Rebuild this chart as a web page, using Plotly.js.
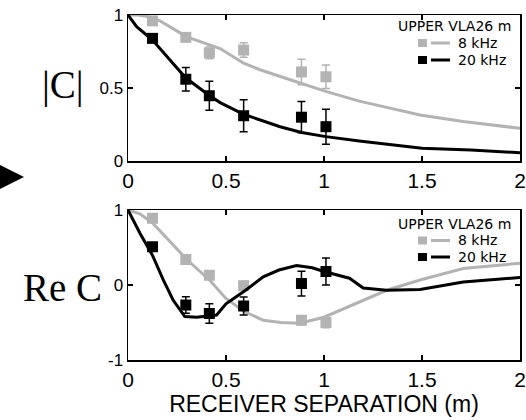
<!DOCTYPE html>
<html>
<head>
<meta charset="utf-8">
<script src="https://cdn.plot.ly/plotly-3.0.1.min.js"></script>
<style>html,body{margin:0;padding:0;background:#fff;}#chart{width:526px;height:420px;}</style>
</head>
<body>
<div id="chart"></div>
<script>
// ---- data ----
const sepData = [0.125, 0.295, 0.415, 0.59, 0.885, 1.01];

const mag20 = [0.84, 0.56, 0.447, 0.31, 0.30, 0.235];
const mag20Err = [0.02, 0.08, 0.10, 0.11, 0.107, 0.12];
const mag8 = [0.96, 0.847, 0.74, 0.76, 0.61, 0.577];
const mag8Err = [0.02, 0.02, 0.04, 0.05, 0.087, 0.08];

const re20 = [0.51, -0.267, -0.38, -0.28, 0.02, 0.18];
const re20Err = [0.04, 0.11, 0.13, 0.12, 0.165, 0.18];
const re8 = [0.89, 0.34, 0.13, -0.01, -0.47, -0.50];
const re8Err = [0.02, 0.03, 0.04, 0.06, 0.06, 0.07];

const magModel8X = [0, 0.05, 0.1, 0.163, 0.3, 0.418, 0.47, 0.59, 0.673, 0.843, 1.013, 1.18, 1.337, 1.49, 1.71, 2.0];
const magModel8Y = [1, 1, 0.99, 0.96, 0.85, 0.795, 0.77, 0.67, 0.625, 0.55, 0.475, 0.41, 0.36, 0.315, 0.27, 0.224];
const magModel20X = [0, 0.044, 0.124, 0.214, 0.294, 0.413, 0.47, 0.59, 0.673, 0.776, 0.886, 1.01, 1.18, 1.337, 1.5, 1.75, 2.0];
const magModel20Y = [1, 0.92, 0.83, 0.69, 0.57, 0.45, 0.40, 0.32, 0.28, 0.235, 0.195, 0.167, 0.137, 0.11, 0.087, 0.075, 0.057];

const reModel8X = [0, 0.06, 0.124, 0.2, 0.3, 0.418, 0.5, 0.59, 0.69, 0.78, 0.876, 1.0, 1.1, 1.2, 1.32, 1.49, 1.71, 2.0];
const reModel8Y = [1, 0.95, 0.83, 0.62, 0.34, 0.06, -0.18, -0.35, -0.47, -0.5, -0.51, -0.43, -0.32, -0.2, -0.07, 0.067, 0.22, 0.29];
const reModel20X = [0, 0.061, 0.124, 0.18, 0.23, 0.29, 0.35, 0.452, 0.5, 0.6, 0.69, 0.77, 0.86, 0.94, 1.0, 1.13, 1.2, 1.32, 1.49, 1.71, 2.0];
const reModel20Y = [1, 0.69, 0.40, 0.067, -0.2, -0.42, -0.43, -0.40, -0.25, -0.07, 0.11, 0.2, 0.26, 0.23, 0.18, 0.09, -0.04, -0.07, -0.06, 0.04, 0.1];

const xTickVals = [0, 0.5, 1, 1.5, 2];
const xTickText = ['0', '0.5', '1', '1.5', '2'];
const magTickVals = [0, 0.5, 1];
const magTickText = ['0', '0.5', '1'];
const reTickVals = [-1, 0, 1];
const reTickText = ['-1', '0', '1'];

const legendTitle = 'UPPER VLA26 m';
const legendNames = ['8 kHz', '20 kHz'];

// ---- styling ----
const GRAY = '#b3b3b3';
const BLACK = '#000000';
const W = 526, H = 420, L = 128, R = 6, T = 15, B = 60;
const pw = W - L - R, ph = H - T - B;
const px2x = p => (p - L) / pw;
const py2y = p => (H - B - p) / ph;

function curve(x, y, color, xa, ya, w) {
  return {x: x, y: y, type: 'scatter', mode: 'lines', xaxis: xa, yaxis: ya,
    line: {color: color, width: w}, hoverinfo: 'skip', showlegend: false};
}
function pts(x, y, err, color, xa, ya) {
  return {x: x, y: y, type: 'scatter', mode: 'markers', xaxis: xa, yaxis: ya,
    marker: {symbol: 'square', size: 11, color: color},
    error_y: {type: 'data', array: err, visible: true, color: color, thickness: 1.5, width: 4},
    hoverinfo: 'skip', showlegend: false};
}

const traces = [
  curve(magModel8X, magModel8Y, GRAY, 'x', 'y', 3),
  pts(sepData, mag8, mag8Err, GRAY, 'x', 'y'),
  curve(magModel20X, magModel20Y, BLACK, 'x', 'y', 3),
  pts(sepData, mag20, mag20Err, BLACK, 'x', 'y'),
  curve(reModel8X, reModel8Y, GRAY, 'x2', 'y2', 3),
  pts(sepData, re8, re8Err, GRAY, 'x2', 'y2'),
  curve(reModel20X, reModel20Y, BLACK, 'x2', 'y2', 3),
  pts(sepData, re20, re20Err, BLACK, 'x2', 'y2')
];

const axisCommon = {
  showline: true, linecolor: '#000', linewidth: 1.5, mirror: 'ticks',
  ticks: 'inside', ticklen: 5, tickwidth: 1.5, tickcolor: '#000',
  showgrid: false, zeroline: false, fixedrange: true
};
const xFont = {family: 'Liberation Sans, Arial, sans-serif', size: 21, color: '#000'};
const yFont = {family: 'Liberation Sans, Arial, sans-serif', size: 17, color: '#000'};
const legFont = {family: 'DejaVu Sans, sans-serif', size: 14, color: '#000'};

const topDomain = [py2y(161), py2y(15)];
const botDomain = [py2y(360), py2y(210)];

const annotations = [];
const shapes = [];
function legend(titleY, y8, y20) {
  annotations.push({xref: 'paper', yref: 'paper', x: px2x(513), y: py2y(titleY), xanchor: 'right', yanchor: 'middle',
    text: legendTitle, showarrow: false, font: legFont});
  annotations.push({xref: 'paper', yref: 'paper', x: px2x(456), y: py2y(y8), xanchor: 'left', yanchor: 'middle',
    text: legendNames[0], showarrow: false, font: legFont});
  annotations.push({xref: 'paper', yref: 'paper', x: px2x(456), y: py2y(y20), xanchor: 'left', yanchor: 'middle',
    text: legendNames[1], showarrow: false, font: legFont});
  [[y8, GRAY], [y20, BLACK]].forEach(([yy, c]) => {
    shapes.push({type: 'rect', xref: 'paper', yref: 'paper', x0: px2x(418), x1: px2x(427),
      y0: py2y(yy - 4), y1: py2y(yy + 4), fillcolor: c, line: {width: 0}});
    shapes.push({type: 'line', xref: 'paper', yref: 'paper', x0: px2x(431), x1: px2x(450),
      y0: py2y(yy), y1: py2y(yy), line: {color: c, width: 3}});
  });
}
legend(26, 43, 60);
legend(224, 240.5, 257);

annotations.push({xref: 'paper', yref: 'paper', x: px2x(63), y: py2y(85), xanchor: 'center', yanchor: 'middle',
  text: '|C|', showarrow: false, font: {family: 'Liberation Serif, Times New Roman, serif', size: 39, color: '#000'}});
annotations.push({xref: 'paper', yref: 'paper', x: px2x(62), y: py2y(287), xanchor: 'center', yanchor: 'middle',
  text: 'Re C', showarrow: false, font: {family: 'Liberation Serif, Times New Roman, serif', size: 39, color: '#000'}});

shapes.push({type: 'path', xref: 'paper', yref: 'paper',
  path: 'M ' + px2x(-6) + ' ' + py2y(162) + ' L ' + px2x(24) + ' ' + py2y(177) + ' L ' + px2x(-6) + ' ' + py2y(192) + ' Z',
  fillcolor: '#000', line: {width: 0}});

const layout = {
  width: W, height: H,
  margin: {l: L, r: R, t: T, b: B},
  paper_bgcolor: '#fff', plot_bgcolor: '#fff',
  showlegend: false,
  xaxis: Object.assign({}, axisCommon, {domain: [0, 1], range: [0, 2], anchor: 'y',
    tickvals: xTickVals, ticktext: xTickText, tickfont: xFont}),
  yaxis: Object.assign({}, axisCommon, {domain: topDomain, range: [0, 1], anchor: 'x',
    tickvals: magTickVals, ticktext: magTickText, tickfont: yFont}),
  xaxis2: Object.assign({}, axisCommon, {domain: [0, 1], range: [0, 2], anchor: 'y2',
    tickvals: xTickVals, ticktext: xTickText, tickfont: xFont,
    title: {text: 'RECEIVER SEPARATION (m)', font: {family: 'Liberation Sans, Arial, sans-serif', size: 23, color: '#000'}, standoff: 3}}),
  yaxis2: Object.assign({}, axisCommon, {domain: botDomain, range: [-1, 1], anchor: 'x2',
    tickvals: reTickVals, ticktext: reTickText, tickfont: yFont}),
  annotations: annotations,
  shapes: shapes
};

Plotly.newPlot('chart', traces, layout, {staticPlot: true, displayModeBar: false});
</script>
</body>
</html>
